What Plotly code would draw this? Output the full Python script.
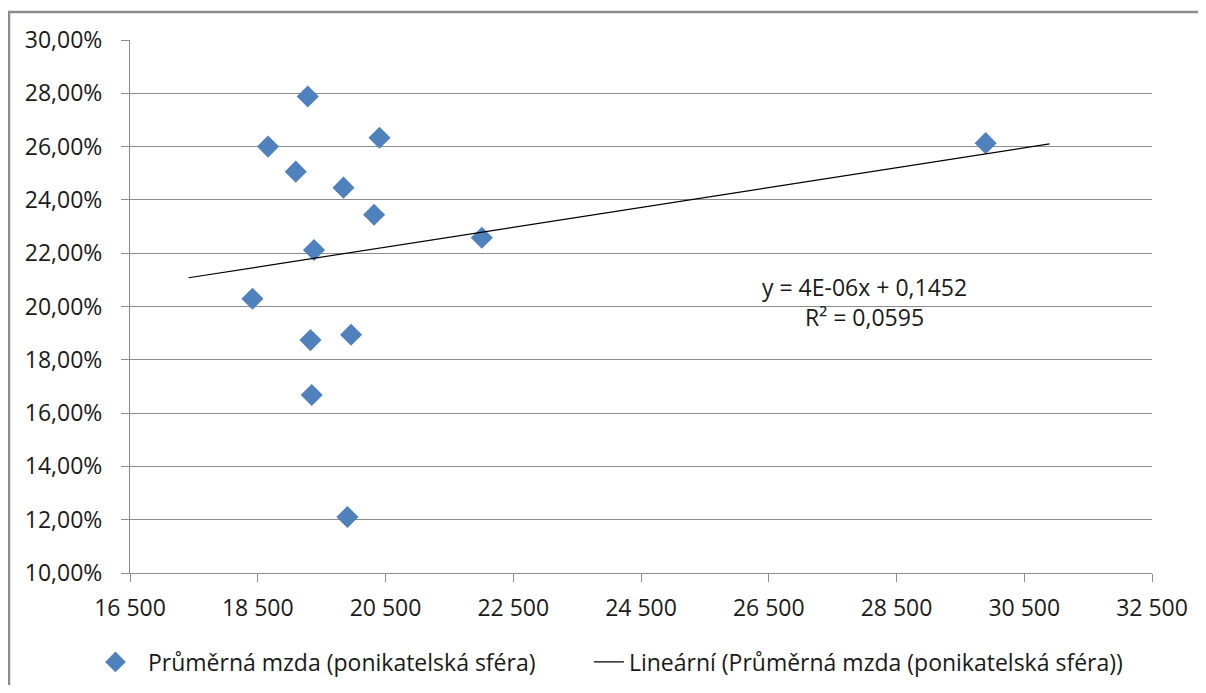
import numpy as np
import plotly.graph_objects as go

# average wage (x) vs share (y)
mzda = [19283, 18661, 19095, 20406, 19842, 20321, 19381, 22008,
        29896, 18417, 19325, 19961, 19345, 19904]
podil = [0.2788, 0.2600, 0.2506, 0.2633, 0.2446, 0.2344, 0.2212, 0.2258,
         0.2613, 0.2029, 0.1874, 0.1894, 0.1668, 0.1210]

serie = "Průměrná mzda (ponikatelská sféra)"
trend_name = "Lineární (Průměrná mzda (ponikatelská sféra))"

# least squares trendline, forecast 1000 each way like Excel
k, q = np.polyfit(mzda, podil, 1)
tx = [min(mzda) - 1000, max(mzda) + 1000]
ty = [k * v + q for v in tx]

font = dict(family="Open Sans", size=23, color="#1a1a1a")

fig = go.Figure()
fig.add_trace(go.Scatter(
    x=mzda, y=podil, mode="markers", name=serie,
    marker=dict(symbol="diamond", size=17, color="#4F81BD",
                line=dict(width=0)),
    legend="legend",
))
fig.add_trace(go.Scatter(
    x=tx, y=ty, mode="lines", name=trend_name,
    line=dict(color="black", width=1.2),
    legend="legend2",
))

fig.add_annotation(
    x=0.719, y=0.508, xref="paper", yref="paper",
    xanchor="center", yanchor="middle",
    text="y = 4E-06x + 0,1452<br>R² = 0,0595",
    showarrow=False, font=font, align="center",
)

# grey border around the chart area (runs off the right and bottom edge)
fig.add_shape(type="rect", xref="paper", yref="paper",
              x0=-0.1184, y0=-0.3, x1=1.2, y1=1.0525,
              line=dict(color="#8c8c8c", width=2.5))

fig.update_layout(
    width=1190, height=677,
    margin=dict(l=122, r=46, t=32, b=112, autoexpand=False),
    paper_bgcolor="white", plot_bgcolor="white",
    separators=", ",
    font=font,
    showlegend=True,
    legend=dict(orientation="h", x=-0.046, xanchor="left",
                y=-0.167, yanchor="middle", font=font, itemwidth=55),
    legend2=dict(orientation="h", x=0.449, xanchor="left",
                 y=-0.167, yanchor="middle", font=font),
)
fig.update_xaxes(
    range=[16500, 32500], dtick=2000, tick0=16500, tickformat=",d",
    showgrid=False, zeroline=False,
    showline=True, linecolor="#8c8c8c", linewidth=1,
    ticks="outside", ticklen=8, tickcolor="#8c8c8c",
    ticklabelstandoff=6,
)
fig.update_yaxes(
    range=[0.10, 0.30], dtick=0.02, tickformat=".2%",
    showgrid=True, gridcolor="#8c8c8c", gridwidth=1, zeroline=False,
    showline=True, linecolor="#8c8c8c", linewidth=1,
    ticks="outside", ticklen=8, tickcolor="#8c8c8c",
    ticklabelstandoff=14,
)

fig.write_html("out.html")
